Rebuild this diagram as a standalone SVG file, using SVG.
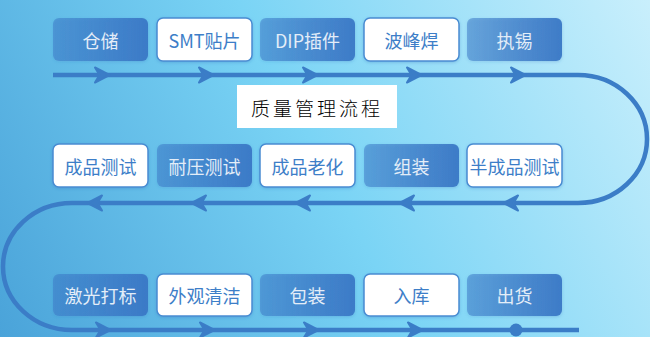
<svg xmlns="http://www.w3.org/2000/svg" width="650" height="337" viewBox="0 0 650 337">
<defs>
<linearGradient id="bg" x1="0" y1="337" x2="650" y2="0" gradientUnits="userSpaceOnUse">
<stop offset="0" stop-color="#4aa3d9"/>
<stop offset="0.5" stop-color="#7ad4f5"/>
<stop offset="1" stop-color="#c9effc"/>
</linearGradient>
<linearGradient id="fill" x1="0" y1="0" x2="1" y2="0">
<stop offset="0" stop-color="#3a78c6" stop-opacity="0.5"/>
<stop offset="1" stop-color="#3a78c6" stop-opacity="0.95"/>
</linearGradient>
<filter id="sh" x="-10%" y="-20%" width="120%" height="140%">
<feDropShadow dx="0" dy="1" stdDeviation="1.5" flood-color="#2a6cb8" flood-opacity="0.3"/>
</filter>
<path id="chevR" d="M-9,-7.5 L5.5,0 L-9,7.5 L-4.5,0 Z"/>
<path id="chevL" d="M9,-7.5 L-5.5,0 L9,7.5 L4.5,0 Z"/>
</defs>
<style>
.f{fill:url(#fill);filter:url(#sh)}
.w{fill:#ffffff;stroke:#4a8cd2;stroke-width:1.5;filter:url(#sh)}
.t{font-family:"Noto Sans CJK SC","Noto Sans",sans-serif;font-size:18px;text-anchor:middle;dominant-baseline:central}
.tf{fill:#e3edf8}
.tw{fill:#3d7ec8}
.ln{fill:none;stroke:#3b7dc7;stroke-width:4.5}
.ch{fill:#3b7dc7;stroke:#3b7dc7;stroke-width:2;stroke-linejoin:round}
</style>
<rect width="650" height="337" fill="url(#bg)"/>
<g id="connectors">
<path class="ln" d="M53,75 L578,75 A69,64 0 0 1 578,203 L72,203 A69,63.5 0 0 0 72,330 L579,330"/>
<use href="#chevR" class="ch" x="104" y="75"/>
<use href="#chevR" class="ch" x="208" y="75"/>
<use href="#chevR" class="ch" x="312" y="75"/>
<use href="#chevR" class="ch" x="416" y="75"/>
<use href="#chevR" class="ch" x="520" y="75"/>
<use href="#chevL" class="ch" x="93" y="203"/>
<use href="#chevL" class="ch" x="197" y="203"/>
<use href="#chevL" class="ch" x="301" y="203"/>
<use href="#chevL" class="ch" x="405" y="203"/>
<use href="#chevL" class="ch" x="509" y="203"/>
<use href="#chevR" class="ch" x="105" y="330"/>
<use href="#chevR" class="ch" x="209" y="330"/>
<use href="#chevR" class="ch" x="313" y="330"/>
<use href="#chevR" class="ch" x="417" y="330"/>
<circle cx="516" cy="330" r="6.5" fill="#3b7dc7"/>
</g>
<g id="title">
<rect x="237" y="85" width="160" height="43" fill="#ffffff"/>
<text x="317" y="107" font-family="'Noto Sans CJK SC',serif" font-size="19" font-weight="300" fill="#000" text-anchor="middle" dominant-baseline="central" letter-spacing="3">质量管理流程</text>
</g>
<g id="n1"><rect class="f" x="53" y="18" width="95" height="43" rx="6"/><text class="t tf" x="100.5" y="40">仓储</text></g>
<g id="n2"><rect class="w" x="157" y="18" width="95" height="43" rx="6"/><text class="t tw" x="204.5" y="40">SMT贴片</text></g>
<g id="n3"><rect class="f" x="260" y="18" width="95" height="43" rx="6"/><text class="t tf" x="307.5" y="40">DIP插件</text></g>
<g id="n4"><rect class="w" x="364" y="18" width="95" height="43" rx="6"/><text class="t tw" x="411.5" y="40">波峰焊</text></g>
<g id="n5"><rect class="f" x="467" y="18" width="95" height="43" rx="6"/><text class="t tf" x="514.5" y="40">执锡</text></g>
<g id="n6"><rect class="w" x="53" y="144" width="95" height="43" rx="6"/><text class="t tw" x="100.5" y="166">成品测试</text></g>
<g id="n7"><rect class="f" x="157" y="144" width="95" height="43" rx="6"/><text class="t tf" x="204.5" y="166">耐压测试</text></g>
<g id="n8"><rect class="w" x="260" y="144" width="95" height="43" rx="6"/><text class="t tw" x="307.5" y="166">成品老化</text></g>
<g id="n9"><rect class="f" x="364" y="144" width="95" height="43" rx="6"/><text class="t tf" x="411.5" y="166">组装</text></g>
<g id="n10"><rect class="w" x="467" y="144" width="95" height="43" rx="6"/><text class="t tw" x="514.5" y="166">半成品测试</text></g>
<g id="n11"><rect class="f" x="53" y="274" width="95" height="42" rx="6"/><text class="t tf" x="100.5" y="295">激光打标</text></g>
<g id="n12"><rect class="w" x="157" y="274" width="95" height="42" rx="6"/><text class="t tw" x="204.5" y="295">外观清洁</text></g>
<g id="n13"><rect class="f" x="260" y="274" width="95" height="42" rx="6"/><text class="t tf" x="307.5" y="295">包装</text></g>
<g id="n14"><rect class="w" x="364" y="274" width="95" height="42" rx="6"/><text class="t tw" x="411.5" y="295">入库</text></g>
<g id="n15"><rect class="f" x="467" y="274" width="95" height="42" rx="6"/><text class="t tf" x="514.5" y="295">出货</text></g>
</svg>
